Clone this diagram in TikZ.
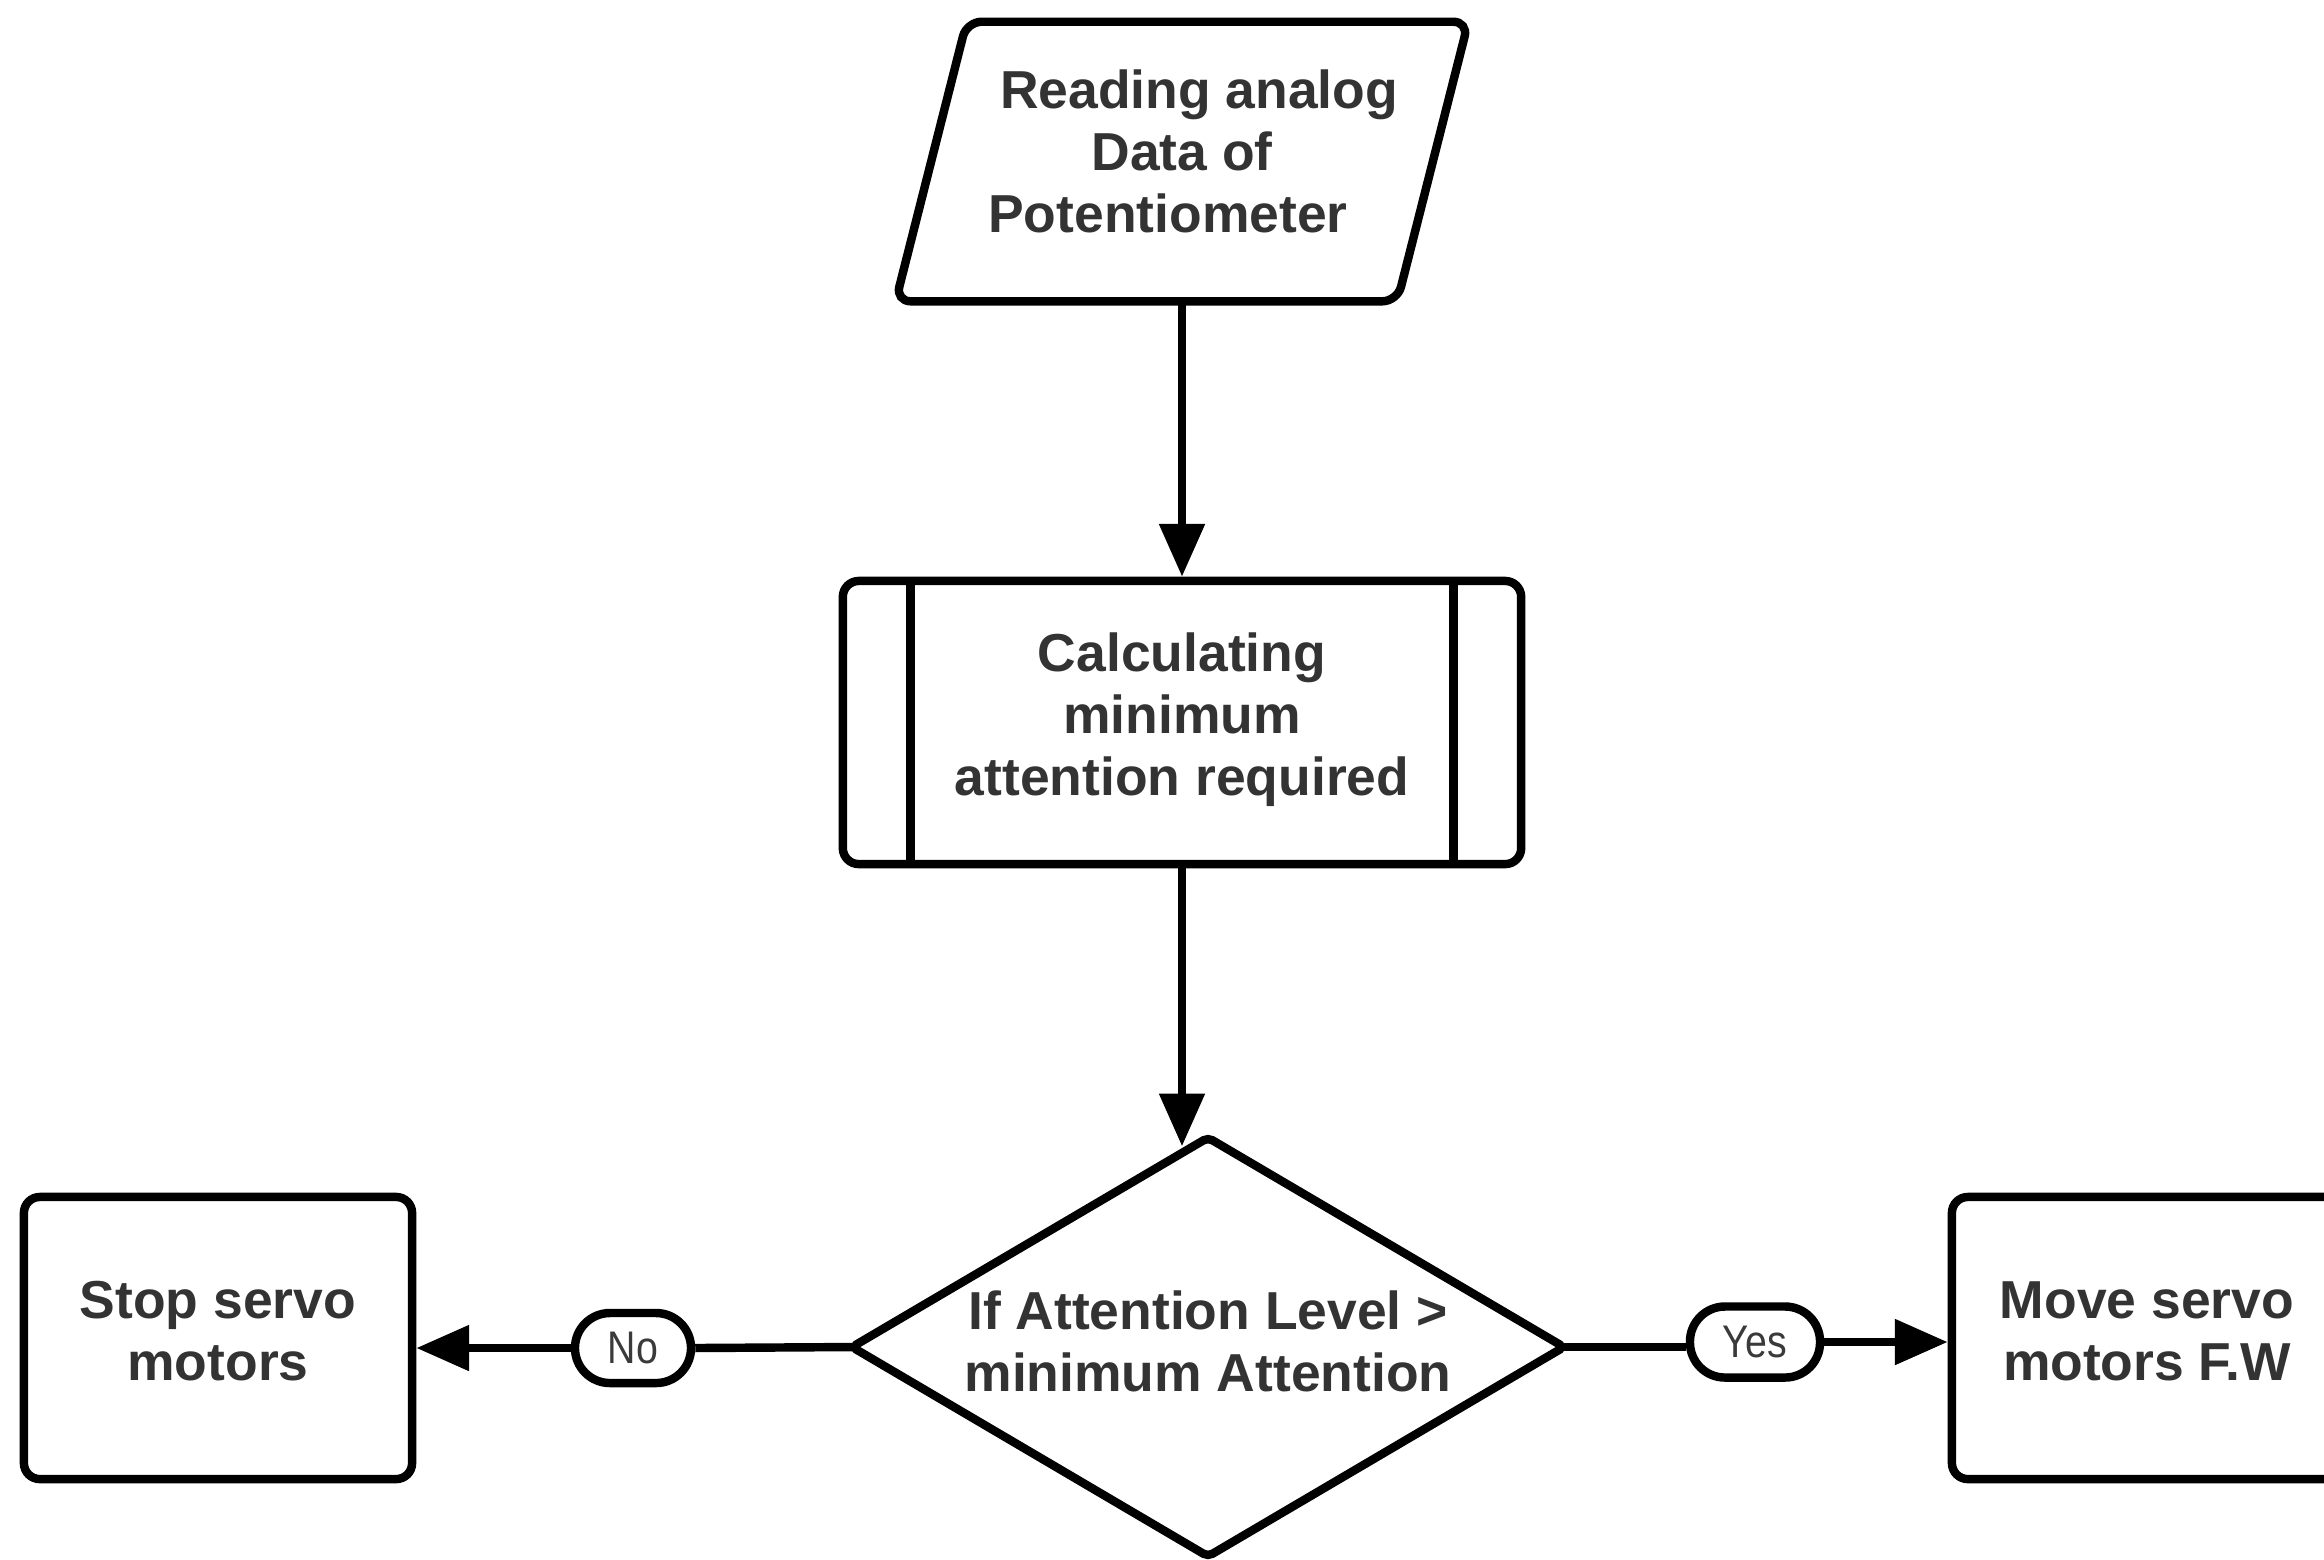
\documentclass[tikz,border=0pt]{standalone}
\usepackage{fontspec}
\setmainfont{Liberation Sans}
\newfontfamily\labelfont[FakeStretch=0.86]{Liberation Sans}
\usetikzlibrary{shapes.geometric,arrows.meta}
\definecolor{ink}{HTML}{333333}
\definecolor{labelink}{HTML}{3A3A3A}

\begin{document}
\begin{tikzpicture}[x=0.01cm, y=-0.01cm,
  box/.style={draw, rounded corners=0.16cm, line width=2.4pt, inner sep=0pt},
  txt/.style={text=ink, font=\bfseries\fontsize{15.2}{17.6}\selectfont, align=center, inner sep=0pt},
  pill/.style={draw, rounded corners=0.35cm, line width=2.4pt, fill=white, text=labelink,
    font=\labelfont\fontsize{13}{15}\selectfont, inner sep=0pt},
  flow/.style={line width=2.4pt},
  arrowflow/.style={flow, -{Triangle[length=15pt,width=12.5pt]}}]

  % page frame
  \useasboundingbox (0,0) rectangle (2324,1559);
  \fill[white] (0,0) rectangle (2324,1559);

  % input (parallelogram drawn around an outline node)
  \node[minimum width=5.0cm, minimum height=2.78cm, inner sep=0pt] (read) at (1182,161.5) {};
  \draw[line width=2.4pt, rounded corners=0.15cm]
    ([xshift=0.355cm]read.north west) -- ([xshift=0.355cm]read.north east)
    -- ([xshift=-0.355cm]read.south east) -- ([xshift=-0.355cm]read.south west) -- cycle;
  \node[txt] (read-t) at (1182,151)
    {\hspace*{0.34cm}Reading analog\\Data of\\Potentiometer\hspace*{0.28cm}};

  % predefined process
  \node[box, minimum width=6.78cm, minimum height=2.83cm] (calc) at (1182,722.5) {};
  \draw[line width=2.4pt] ([xshift=0.72cm]calc.north west) -- ([xshift=0.72cm]calc.south west);
  \draw[line width=2.4pt] ([xshift=-0.72cm]calc.north east) -- ([xshift=-0.72cm]calc.south east);
  \node[txt] (calc-t) at (1182,719.5) {Calculating\\minimum\\attention required};

  % decision
  \node[box, shape=diamond, rounded corners=0.05cm, shape aspect=1.7,
        minimum width=7.15cm, minimum height=4.22cm] (dec) at (1208,1347) {};
  \node[txt] (dec-t) at (1208,1341) {If Attention Level >\\minimum Attention};

  % outcomes
  \node[box, minimum width=3.88cm, minimum height=2.82cm] (stop) at (218,1338) {};
  \node[txt] (stop-t) at (218,1331) {Stop servo\\motors};
  \node[box, minimum width=3.88cm, minimum height=2.82cm] (move) at (2146,1338) {};
  \node[txt] (move-t) at (2147,1331) {Move servo\\motors F.W};

  % branch labels
  \node[pill, minimum width=1.16cm, minimum height=0.70cm] (no) at (633,1348) {No};
  \node[pill, minimum width=1.30cm, minimum height=0.71cm] (yes) at (1755,1342) {Yes};

  % connectors
  \draw[arrowflow] (read.south) -- (calc.north);
  \draw[arrowflow] (calc.south) -- (calc.south |- dec.97.6);
  \draw[flow] ([xshift=0.07cm]dec.west) -- (no.east);
  \draw[arrowflow] (no.west) -- (stop.east |- no.west);
  \draw[flow] ([xshift=-0.07cm]dec.east) -- (dec.east -| yes.west);
  \draw[arrowflow] (yes.east) -- (move.west |- yes.east);
\end{tikzpicture}
\end{document}
